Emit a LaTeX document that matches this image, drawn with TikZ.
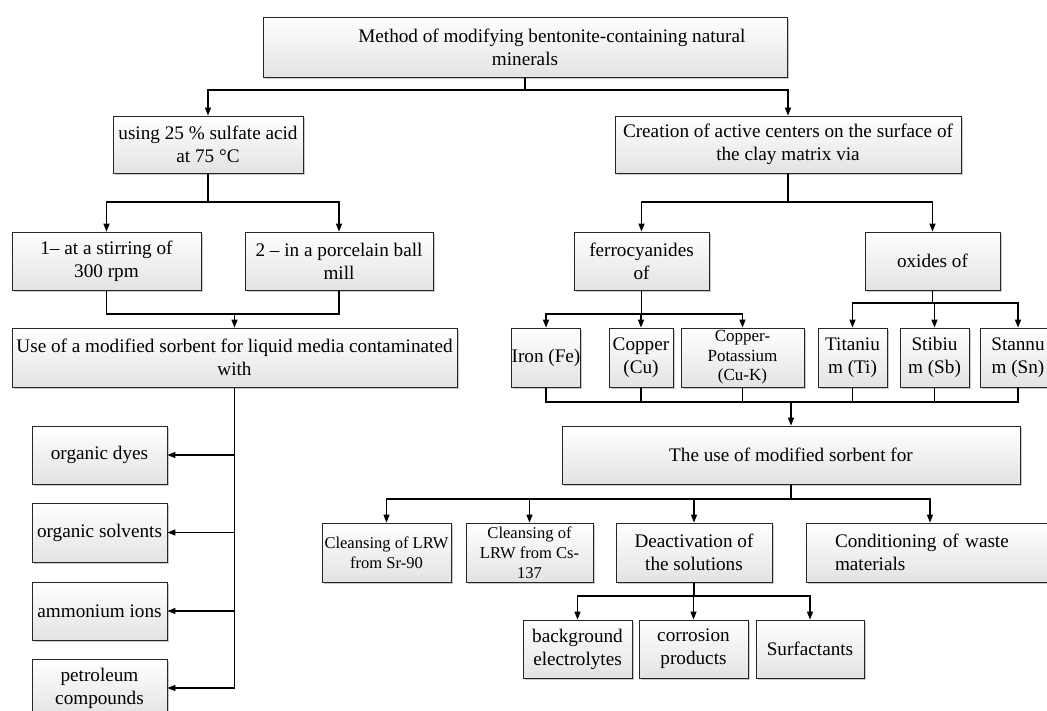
\documentclass[tikz,border=0pt]{standalone}
\usepackage{fontspec}
\setmainfont{Liberation Serif}
\usetikzlibrary{arrows.meta,shadows}
\newcommand{\fnorm}{\fontsize{14.4}{17.25}\selectfont}
\newcommand{\fsmall}{\fontsize{12.4}{15}\selectfont}
\tikzset{
  box/.style={draw=black!85, line width=0.6pt, top color=white, bottom color=black!11,
    drop shadow={shadow xshift=1.2pt, shadow yshift=-1.2pt, fill=black!35, opacity=0.6},
    align=center, inner sep=0pt, font=\fnorm},
  link/.style={line width=0.9pt},
}
\begin{document}
\begin{tikzpicture}[x=0.75pt, y=-0.75pt, >={Triangle[length=6pt,width=4.5pt]}]
\path[use as bounding box, fill=white] (0,0) rectangle (1047,711);
% level 1 and 2
\node[box, minimum width=393pt, minimum height=45pt] (top) at (525,47)
  {\hspace*{2.8em}Method of modifying bentonite-containing natural\\minerals};
\node[box, minimum width=142.5pt, minimum height=42.75pt] (acid) at (208,144.5)
  {using 25 \% sulfate acid\\at 75 °C};
\node[box, minimum width=259.5pt, minimum height=42.75pt] (creation) at (788,144.5)
  {Creation of active centers on the surface of\\the clay matrix via};
% left branch
\node[box, minimum width=141.75pt, minimum height=43.5pt] (stir) at (106.5,261) {1– at a stirring of\\300 rpm};
\node[box, minimum width=141pt, minimum height=43.5pt] (mill) at (339,261) {2 – in a porcelain ball\\mill};
\node[box, minimum width=333.75pt, minimum height=44.25pt] (use) at (234.5,357.5)
  {Use of a modified sorbent for liquid media contaminated\\with};
\node[box, minimum width=101.25pt, minimum height=43.5pt] (dyes) at (99.5,455) {organic dyes};
\node[box, minimum width=101.25pt, minimum height=44.25pt] (solv) at (99.5,532.5) {organic solvents};
\node[box, minimum width=101.25pt, minimum height=43.5pt] (amm) at (99.5,611) {ammonium ions};
\node[box, minimum width=101.25pt, minimum height=43.5pt] (petro) at (99.5,688) {petroleum\\compounds};
% right branch
\node[box, minimum width=101.25pt, minimum height=43.5pt] (ferro) at (641.5,261) {ferrocyanides\\of};
\node[box, minimum width=101.25pt, minimum height=43.5pt] (oxides) at (932.5,261) {oxides of};
\node[box, minimum width=51pt, minimum height=44.25pt] (iron) at (546,357.5) {Iron (Fe)};
\node[box, minimum width=48pt, minimum height=44.25pt] (cu) at (641,357.5) {Copper\\(Cu)};
\node[box, minimum width=92.25pt, minimum height=44.25pt, font=\fontsize{12.75}{14.6}\selectfont] (cuk) at (742.5,357.5)
  {Copper-\\Potassium\\(Cu-K)};
\node[box, minimum width=51.75pt, minimum height=44.25pt] (ti) at (852.5,357.5) {Titaniu\\m (Ti)};
\node[box, minimum width=51.75pt, minimum height=44.25pt] (sb) at (934.5,357.5) {Stibiu\\m (Sb)};
\node[box, minimum width=57pt, minimum height=44.25pt] (sn) at (1018,357.5) {Stannu\\m (Sn)};
\node[box, minimum width=343.5pt, minimum height=43.5pt] (sorbent) at (791,455) {The use of modified sorbent for};
\node[box, minimum width=96.75pt, minimum height=44.25pt, font=\fsmall] (sr) at (386.5,552.5) {Cleansing of LRW\\from Sr-90};
\node[box, minimum width=95.25pt, minimum height=44.25pt, font=\fsmall] (cs) at (529.5,552.5) {Cleansing of\\LRW from Cs-\\137};
\node[box, minimum width=117pt, minimum height=44.25pt] (deact) at (694,552.5) {Deactivation of\\the solutions};
\node[box, minimum height=44.25pt, align=left, inner xsep=21.75pt, text width=142.5pt] (cond) at (930,552.5)
  {Conditioning of waste\\materials};
\node[box, minimum width=81.75pt, minimum height=43.5pt] (bg) at (577.5,649) {background\\electrolytes};
\node[box, minimum width=81.75pt, minimum height=43.5pt] (corr) at (693.5,649) {corrosion\\products};
\node[box, minimum width=81pt, minimum height=43.5pt] (surf) at (810,649) {Surfactants};
% forks and joins
\coordinate (f0) at (top.south |- 0,90);
\coordinate (f1) at (acid.south |- 0,202);
\coordinate (f2) at (creation.south |- 0,202);
\coordinate (j1) at (use.north |- 0,314);
\coordinate (f3) at (ferro.south |- 0,314);
\coordinate (f4) at (oxides.south |- 0,303);
\coordinate (j2) at (sorbent.north |- 0,402);
\coordinate (f5) at (sorbent.south |- 0,499);
\coordinate (f6) at (deact.south |- 0,596);
% connectors
\draw[link] (top) -- (f0);
\draw[link,->] (f0) -| (acid);
\draw[link,->] (f0) -| (creation);
\draw[link] (acid) -- (f1);
\draw[link,->] (f1) -| (stir);
\draw[link,->] (f1) -| (mill);
\draw[link] (stir) |- (j1);
\draw[link] (mill) |- (j1);
\draw[link,->] (j1) -- (use);
\draw[link] (use) -- (use.south |- petro);
\foreach \n in {dyes,solv,amm,petro}
  \draw[link,->] (use.south |- \n) -- (\n);
\draw[link] (creation) -- (f2);
\draw[link,->] (f2) -| (ferro);
\draw[link,->] (f2) -| (oxides);
\draw[link] (ferro) -- (f3);
\foreach \n in {iron,cu,cuk}
  \draw[link,->] (f3) -| (\n);
\draw[link] (oxides) -- (f4);
\foreach \n in {ti,sb,sn}
  \draw[link,->] (f4) -| (\n);
\foreach \n in {iron,cu,cuk,ti,sb,sn}
  \draw[link] (\n) |- (j2);
\draw[link,->] (j2) -- (sorbent);
\draw[link] (sorbent) -- (f5);
\foreach \n in {sr,cs,deact,cond}
  \draw[link,->] (f5) -| (\n);
\draw[link] (deact) -- (f6);
\foreach \n in {bg,corr,surf}
  \draw[link,->] (f6) -| (\n);
\end{tikzpicture}
\end{document}
